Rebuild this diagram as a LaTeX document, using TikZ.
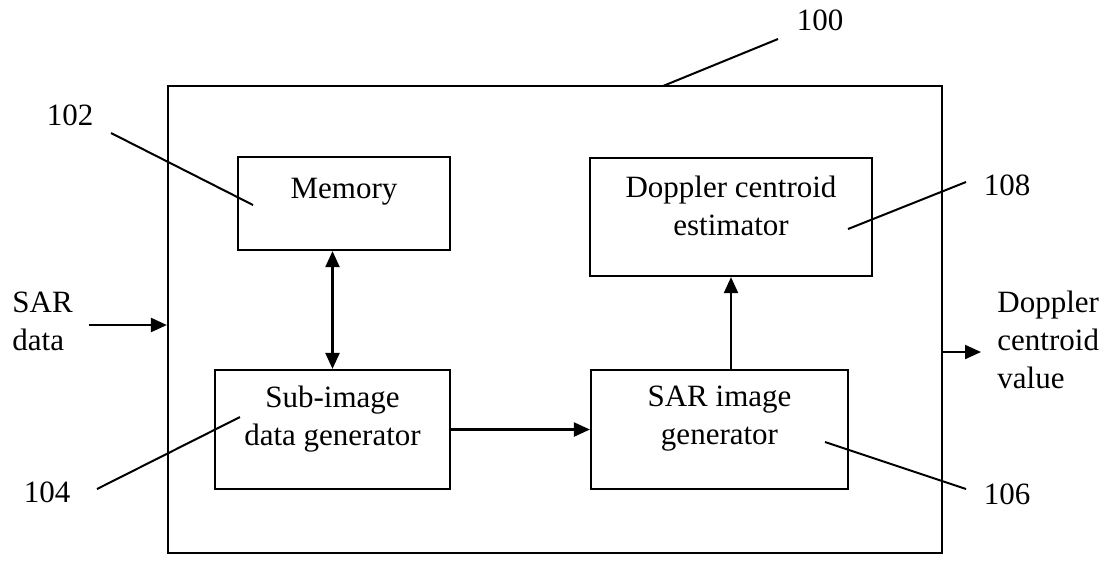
\documentclass[tikz,border=0pt]{standalone}
\usepackage{fontspec}
\setmainfont{Liberation Serif}
\usetikzlibrary{arrows.meta}

\tikzset{
  blk/.style={draw, line width=1.1pt, inner sep=0pt},
  arr/.style={line width=1.1pt, -{Triangle[length=8pt,width=7pt]}},
  dblarr/.style={line width=1.1pt, {Triangle[length=8pt,width=7pt]}-{Triangle[length=8pt,width=7pt]}},
  lead/.style={line width=1pt},
  io/.style={align=left, inner xsep=8pt, inner ysep=0pt, anchor=west},
}

\begin{document}
\begin{tikzpicture}[x=0.5pt, y=-0.5pt, font=\fontsize{15.5}{19}\selectfont]
\useasboundingbox (0,0) rectangle (1111,586);

% Unit 100
\node[blk, minimum width=387pt, minimum height=233.5pt] (unit) at (555,319.5) {};

% Blocks
\node[blk, minimum width=106pt, minimum height=46.5pt,
      label={[yshift=6pt]center:Memory}] (mem) at (344,203.5) {};
\node[blk, minimum width=141pt, minimum height=59pt,
      label={[yshift=5.5pt, align=center]center:{Doppler centroid\\estimator}}] (dop) at (731,217) {};
\node[blk, minimum width=117.5pt, minimum height=59.5pt,
      label={[yshift=5.25pt, align=center]center:{Sub-image\\data generator}}] (sub) at (332.5,429.5) {};
\node[blk, minimum width=128.5pt, minimum height=59.5pt,
      label={[yshift=5.25pt, align=center]center:{SAR image\\generator}}] (sar) at (719.5,429.5) {};

\draw[dblarr] (sub.north) -- (sub.north |- mem.south);
\draw[arr] (sub.east) -- (sar.west);
\draw[arr] (dop.south |- sar.north) -- (dop.south);

% Input and output
\node[io] (sarin) at (-4,321) {SAR\\data};
\coordinate (iny) at (0,325);
\draw[arr] (sarin.east |- iny) -- (unit.west |- iny);

\node[io] (dopout) at (981,340) {Doppler\\centroid\\value};
\coordinate (outy) at (0,352);
\draw[arr] (unit.east |- outy) -- (dopout.west |- outy);

% Reference numerals
\node (n100) at (820,20) {100};
\node (n102) at (70,115) {102};
\node (n104) at (47,492) {104};
\node (n106) at (1007,494) {106};
\node (n108) at (1007,185) {108};

\coordinate (a100) at (778,39);   \coordinate (b100) at (663,86);
\coordinate (a102) at (111,133);  \coordinate (b102) at (253,205);
\coordinate (a104) at (97,489);   \coordinate (b104) at (240,417);
\coordinate (a106) at (966,489);  \coordinate (b106) at (825,442);
\coordinate (a108) at (966,182);  \coordinate (b108) at (848,229);

\draw[lead] (a100) -- (b100);
\draw[lead] (a102) -- (b102);
\draw[lead] (a104) -- (b104);
\draw[lead] (a106) -- (b106);
\draw[lead] (a108) -- (b108);

\end{tikzpicture}
\end{document}
